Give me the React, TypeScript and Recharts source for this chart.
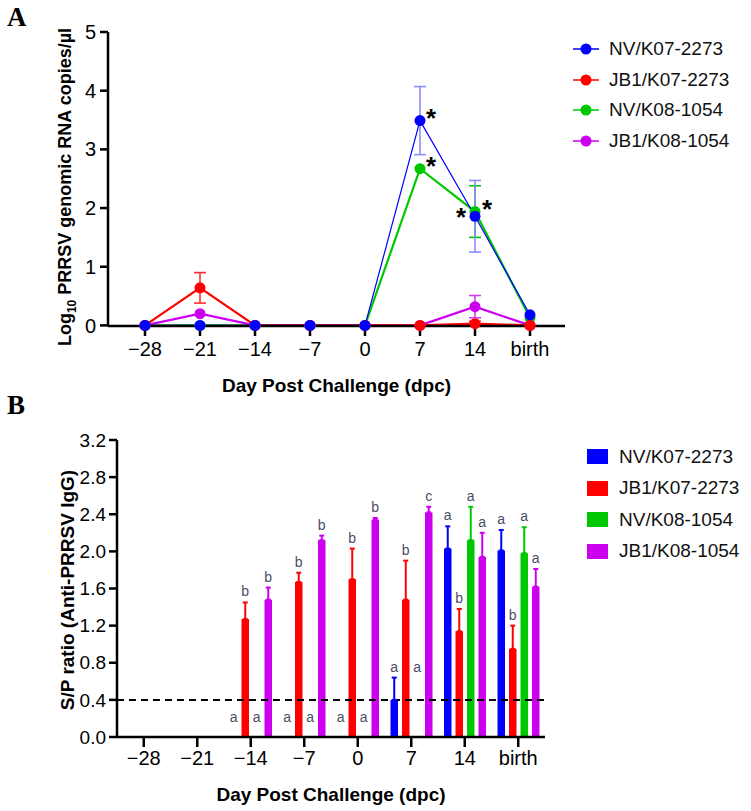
import React from "react";
import { LineChart, Line, BarChart, Bar, XAxis, YAxis, ErrorBar, LabelList, ReferenceLine } from "recharts";

const days = ["−28", "−21", "−14", "−7", "0", "7", "14", "birth"];
const groups = ["NV/K07-2273", "JB1/K07-2273", "NV/K08-1054", "JB1/K08-1054"];
const colors = ["#0000ff", "#ff0000", "#00c800", "#cc00ee"];
const errColorsA = ["#8c8cff", "#ff3030", "#00c800", "#d040f0"];

// A: Log10 PRRSV genomic RNA copies/µl
const rnaNvK07 = [0, 0, 0, 0, 0, 3.49, 1.86, 0.18];
const rnaNvK07Err = [0, 0, 0, 0, 0, 0.58, 0.61, 0];
const rnaJbK07 = [0, 0.64, 0, 0, 0, 0, 0.03, 0];
const rnaJbK07Err = [0, 0.26, 0, 0, 0, 0, 0.04, 0];
const rnaNvK08 = [0, 0, 0, 0, 0, 2.67, 1.94, 0.13];
const rnaNvK08Err = [0, 0, 0, 0, 0, 0, 0.44, 0];
const rnaJbK08 = [0, 0.2, 0, 0, 0, 0, 0.32, 0];
const rnaJbK08Err = [0, 0, 0, 0, 0, 0, 0.19, 0];
const starsNvK07 = ["", "", "", "", "", "*", "*", ""];
const starsNvK08 = ["", "", "", "", "", "*", "*", ""];

// B: S/P ratio
const spNvK07 = [0, 0, 0, 0, 0, 0.4, 2.03, 2.01];
const spNvK07Err = [0, 0, 0, 0, 0, 0.24, 0.24, 0.22];
const spJbK07 = [0, 0, 1.27, 1.67, 1.7, 1.48, 1.14, 0.95];
const spJbK07Err = [0, 0, 0.18, 0.1, 0.33, 0.42, 0.24, 0.25];
const spNvK08 = [0, 0, 0, 0, 0, 0, 2.12, 1.98];
const spNvK08Err = [0, 0, 0, 0, 0, 0, 0.36, 0.28];
const spJbK08 = [0, 0, 1.48, 2.12, 2.34, 2.42, 1.94, 1.62];
const spJbK08Err = [0, 0, 0.13, 0.05, 0.02, 0.06, 0.26, 0.19];
const lettersNvK07 = ["", "", "a", "a", "a", "a", "a", "a"];
const lettersJbK07 = ["", "", "b", "b", "b", "b", "b", "b"];
const lettersNvK08 = ["", "", "a", "a", "a", "a", "a", "a"];
const lettersJbK08 = ["", "", "b", "b", "b", "c", "a", "a"];

const rnaSeries = [
  { values: rnaNvK07, err: rnaNvK07Err },
  { values: rnaJbK07, err: rnaJbK07Err },
  { values: rnaNvK08, err: rnaNvK08Err },
  { values: rnaJbK08, err: rnaJbK08Err },
];
const spSeries = [
  { values: spNvK07, err: spNvK07Err, letters: lettersNvK07 },
  { values: spJbK07, err: spJbK07Err, letters: lettersJbK07 },
  { values: spNvK08, err: spNvK08Err, letters: lettersNvK08 },
  { values: spJbK08, err: spJbK08Err, letters: lettersJbK08 },
];

const rnaRows = days.map((day, i) => {
  const row: any = { day };
  rnaSeries.forEach((s, k) => {
    row["v" + k] = s.values[i];
    row["e" + k] = s.err[i] ? s.err[i] : null;
  });
  row.s0 = starsNvK07[i];
  row.s2 = starsNvK08[i];
  return row;
});

const spRows = days.map((day, i) => {
  const row: any = { day, idx: i };
  spSeries.forEach((s, k) => {
    row["v" + k] = s.values[i];
    row["e" + k] = s.err[i] ? [0, s.err[i]] : null;
  });
  return row;
});

const FONT = "Arial, 'Liberation Sans', Helvetica, sans-serif";

// panel B geometry (used to place the letters above the error bars)
const B_H = 411;
const B_MARGIN = { top: 40, right: 206, bottom: 34, left: 57 };
const B_XAXIS_H = 40;
const B_PLOT_H = B_H - B_MARGIN.top - B_MARGIN.bottom - B_XAXIS_H;
const B_BASE = B_MARGIN.top + B_PLOT_H;
const B_MAX = 3.2;
const BAR_SIZE = 7.5;
const BAR_GAP = 4;

const starOffsets: Record<string, [number, number]> = {
  "0-5": [11, 6],
  "0-6": [-14, 10],
  "2-5": [11, 6],
  "2-6": [12, 6],
};

function makeStar(series: number) {
  return (props: any) => {
    const { x, y, value, index } = props;
    if (!value) return null;
    const off = starOffsets[series + "-" + index] || [10, 6];
    return (
      <text x={x + off[0]} y={y + off[1]} textAnchor="middle" fontSize={26} fontWeight="bold" fontFamily={FONT} fill="#000">
        {value}
      </text>
    );
  };
}

function letterY(k: number, i: number) {
  const ppu = B_PLOT_H / B_MAX;
  const s = spSeries[k];
  if (s.values[i] > 0) return B_BASE - (s.values[i] + s.err[i]) * ppu - 6;
  const anchor = spSeries[0].values[i] + spSeries[0].err[i];
  return Math.min(B_BASE - 15, B_BASE - anchor * ppu - 6);
}

function Letter({ x, k, i }: { x: number; k: number; i: number }) {
  const letter = spSeries[k].letters[i];
  if (!letter) return null;
  return (
    <text x={x} y={letterY(k, i)} textAnchor="middle" fontSize={14} fontFamily={FONT} fill="#4a4d66">
      {letter}
    </text>
  );
}

// zero-height bars get no label, so the red series also writes the letters
// of empty neighbouring slots in its group
function makeLetter(series: number) {
  return (props: any) => {
    const { x, width, value } = props;
    const i = Number(value);
    const cx = x + width / 2;
    const slot = BAR_SIZE + BAR_GAP;
    const extra: React.ReactNode[] = [];
    if (series === 1) {
      [0, 2, 3].forEach((k) => {
        if (spSeries[k].values[i] === 0) extra.push(<Letter key={k} x={cx + (k - 1) * slot} k={k} i={i} />);
      });
    }
    return (
      <g>
        <Letter x={cx} k={series} i={i} />
        {extra}
      </g>
    );
  };
}

const tickStyle = { fill: "#000", fontSize: 20, fontFamily: FONT };
const axisLine = { stroke: "#000", strokeWidth: 2.5 };
const tickLine = { stroke: "#000", strokeWidth: 2.5 };

function LegendA() {
  return (
    <div style={{ position: "absolute", left: 572, top: 34 }}>
      {groups.map((g, k) => (
        <div key={g} style={{ display: "flex", alignItems: "center", height: 30.5 }}>
          <svg width={28} height={14} style={{ marginRight: 9 }}>
            <line x1={1} y1={7} x2={27} y2={7} stroke={colors[k]} strokeWidth={1.5} />
            <circle cx={14} cy={7} r={5.5} fill={colors[k]} />
          </svg>
          <span style={{ fontFamily: FONT, fontSize: 19, color: "#111" }}>{g}</span>
        </div>
      ))}
    </div>
  );
}

function LegendB() {
  return (
    <div style={{ position: "absolute", left: 587, top: 441 }}>
      {groups.map((g, k) => (
        <div key={g} style={{ display: "flex", alignItems: "center", height: 31.5 }}>
          <div style={{ width: 21, height: 15, background: colors[k], marginRight: 11 }} />
          <span style={{ fontFamily: FONT, fontSize: 19, color: "#111" }}>{g}</span>
        </div>
      ))}
    </div>
  );
}

export default function App() {
  return (
    <div style={{ position: "absolute", left: 0, top: 0, width: 751, height: 811, background: "#fff" }}>
      <div style={{ position: "absolute", left: 7, top: 2, fontFamily: "'Liberation Serif', 'Times New Roman', serif", fontWeight: "bold", fontSize: 27 }}>A</div>
      <div style={{ position: "absolute", left: 7, top: 390, fontFamily: "'Liberation Serif', 'Times New Roman', serif", fontWeight: "bold", fontSize: 27 }}>B</div>

      <div style={{ position: "absolute", left: 0, top: 0 }}>
        <LineChart width={751} height={400} data={rnaRows} margin={{ top: 32, right: 186, bottom: 34, left: 48 }}>
          <XAxis
            dataKey="day"
            padding={{ left: 37, right: 35 }}
            height={40}
            tickSize={10}
            tickMargin={6}
            tick={tickStyle}
            axisLine={axisLine}
            tickLine={tickLine}
            interval={0}
            label={{ value: "Day Post Challenge (dpc)", position: "insideBottom", offset: -26, style: { fontFamily: FONT, fontSize: 19, fontWeight: "bold", fill: "#000" } }}
          />
          <YAxis
            width={60}
            domain={[0, 5]}
            ticks={[0, 1, 2, 3, 4, 5]}
            tickSize={8}
            tickMargin={4}
            tick={tickStyle}
            axisLine={axisLine}
            tickLine={tickLine}
          />
          {[2, 3, 1, 0].map((k) => (
            <Line
              key={k}
              type="linear"
              dataKey={"v" + k}
              stroke={colors[k]}
              strokeWidth={k === 0 ? 1.2 : 2.2}
              dot={{ r: 5.5, fill: colors[k], stroke: colors[k], strokeWidth: 0 }}
              activeDot={false}
              isAnimationActive={false}
            >
              <ErrorBar dataKey={"e" + k} width={6} stroke={errColorsA[k]} strokeWidth={1.6} />
              {k === 0 && <LabelList dataKey="s0" content={makeStar(0)} />}
              {k === 2 && <LabelList dataKey="s2" content={makeStar(2)} />}
            </Line>
          ))}
        </LineChart>
      </div>
      <div
        style={{
          position: "absolute",
          left: 67,
          top: 187,
          transform: "translate(-50%, -50%) rotate(-90deg)",
          whiteSpace: "nowrap",
          fontFamily: FONT,
          fontWeight: "bold",
          fontSize: 18,
        }}
      >
        Log<sub style={{ fontSize: 12 }}>10</sub> PRRSV genomic RNA copies/µl
      </div>
      <LegendA />

      <div style={{ position: "absolute", left: 0, top: 400 }}>
        <BarChart width={751} height={B_H} data={spRows} margin={B_MARGIN} barSize={BAR_SIZE} barGap={BAR_GAP}>
          <XAxis
            dataKey="day"
            height={B_XAXIS_H}
            tickSize={10}
            tickMargin={4}
            tick={tickStyle}
            axisLine={axisLine}
            tickLine={tickLine}
            interval={0}
            label={{ value: "Day Post Challenge (dpc)", position: "insideBottom", offset: -24, style: { fontFamily: FONT, fontSize: 19, fontWeight: "bold", fill: "#000" } }}
          />
          <YAxis
            width={60}
            domain={[0, B_MAX]}
            ticks={[0, 0.4, 0.8, 1.2, 1.6, 2.0, 2.4, 2.8, 3.2]}
            tickFormatter={(v: number) => v.toFixed(1)}
            tickSize={8}
            tickMargin={3}
            tick={{ ...tickStyle, fontSize: 19 }}
            axisLine={axisLine}
            tickLine={tickLine}
          />
          <ReferenceLine y={0.4} stroke="#000" strokeWidth={2} strokeDasharray="7 5" />
          {[0, 1, 2, 3].map((k) => (
            <Bar key={k} dataKey={"v" + k} fill={colors[k]} isAnimationActive={false}>
              <ErrorBar dataKey={"e" + k} width={2.5} stroke={colors[k]} strokeWidth={2} />
              <LabelList dataKey="idx" content={makeLetter(k)} />
            </Bar>
          ))}
        </BarChart>
      </div>
      <div
        style={{
          position: "absolute",
          left: 68,
          top: 590,
          transform: "translate(-50%, -50%) rotate(-90deg)",
          whiteSpace: "nowrap",
          fontFamily: FONT,
          fontWeight: "bold",
          fontSize: 19,
        }}
      >
        S/P ratio (Anti-PRRSV IgG)
      </div>
      <LegendB />
    </div>
  );
}
